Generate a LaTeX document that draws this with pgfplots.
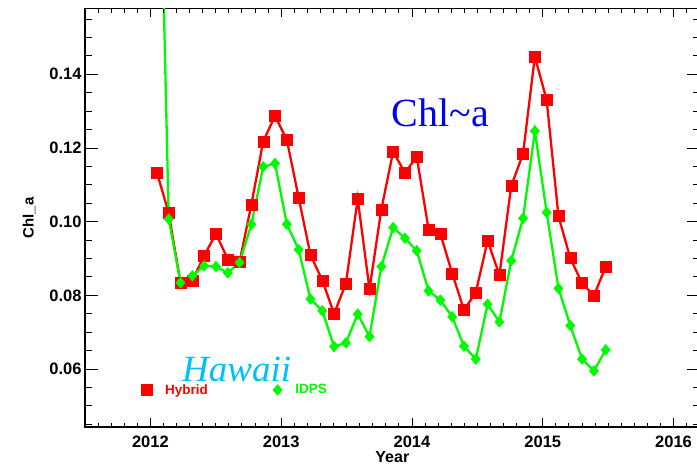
\documentclass[border=0pt]{standalone}
\usepackage{pgfplots}
\pgfplotsset{compat=1.18}
\usepackage{pgfplotstable}
\usepackage{fontspec}
\setmainfont{Liberation Sans}
\newfontfamily\timesfont{Liberation Serif}
\definecolor{hyb}{RGB}{255,0,0}
\definecolor{idps}{RGB}{0,250,0}
\definecolor{chlblue}{RGB}{0,0,245}
\definecolor{hawaii}{RGB}{0,191,255}

\pgfplotstableread{
x hybrid idps
2012.0500 0.1133 0.2400
2012.1403 0.1023 0.1007
2012.2306 0.0833 0.0834
2012.3209 0.0840 0.0853
2012.4112 0.0908 0.0880
2012.5015 0.0967 0.0878
2012.5918 0.0898 0.0861
2012.6821 0.0891 0.0889
2012.7724 0.1047 0.0993
2012.8627 0.1218 0.1149
2012.9530 0.1287 0.1158
2013.0433 0.1222 0.0993
2013.1336 0.1065 0.0924
2013.2239 0.0910 0.0790
2013.3142 0.0841 0.0758
2013.4045 0.0750 0.0661
2013.4948 0.0832 0.0671
2013.5851 0.1062 0.0749
2013.6754 0.0817 0.0688
2013.7657 0.1033 0.0878
2013.8560 0.1190 0.0984
2013.9463 0.1133 0.0955
2014.0366 0.1176 0.0921
2014.1269 0.0979 0.0812
2014.2172 0.0967 0.0787
2014.3075 0.0860 0.0742
2014.3978 0.0760 0.0662
2014.4881 0.0808 0.0627
2014.5784 0.0948 0.0776
2014.6687 0.0855 0.0728
2014.7590 0.1097 0.0894
2014.8493 0.1184 0.1009
2014.9396 0.1448 0.1246
2015.0299 0.1330 0.1025
2015.1202 0.1015 0.0819
2015.2105 0.0901 0.0718
2015.3008 0.0833 0.0627
2015.3911 0.0799 0.0595
2015.4814 0.0878 0.0652
}\datatable

\begin{document}
\begin{tikzpicture}
\begin{axis}[
  at={(85pt,37pt)}, anchor=south west,
  scale only axis, width=614.7pt, height=418.3pt,
  xmin=2011.5, xmax=2016.2, ymin=0.04426, ymax=0.1578,
  xtick=\empty,
  ytick={0.06,0.08,0.10,0.12,0.14},
  minor ytick={0.045,0.05,...,0.156},
  major tick length=13pt, minor tick length=6.7pt,
  tick style={black, line width=0.9pt},
  axis line style={black, line width=1.2pt},
  tick label style={font=\bfseries\fontsize{16.5}{19}\selectfont},
  /pgf/number format/assume math mode=true,
  yticklabel style={/pgf/number format/.cd, fixed, fixed zerofill, precision=2},
  ylabel={Chl\_a},
  every axis y label/.style={at={(axis description cs:-0.0802,0.5)},
    rotate=90, anchor=south, inner sep=0pt,
    font=\bfseries\fontsize{15}{18}\selectfont},
  legend style={at={(0.0911,0.0885)}, anchor=west, draw=none, fill=none,
    inner sep=0pt, font=\bfseries\fontsize{13.5}{15}\selectfont,
    /tikz/every even column/.append style={column sep=63pt},
    /tikz/every odd column/.append style={column sep=11pt}},
  legend columns=2,
]
\addplot[hyb, line width=2.3pt, mark=square*, mark size=5.5pt,
  mark options={solid, line width=0.4pt}, forget plot]
  table[x=x, y=hybrid]{\datatable};
\addplot[idps, line width=2.3pt, mark=diamond*, mark size=5.4pt,
  mark options={solid, line width=0.4pt, xscale=1.15}, forget plot]
  table[x=x, y=idps]{\datatable};
\addlegendimage{only marks, mark=square*, hyb, mark size=5.5pt}
\addlegendentry[text=hyb]{Hybrid}
\addlegendimage{only marks, mark=diamond*, idps, mark size=5.4pt, mark options={xscale=1.15}}
\addlegendentry[text=idps]{IDPS}
\end{axis}
\begin{axis}[
  at={(85pt,37pt)}, anchor=south west,
  scale only axis, width=614.7pt, height=418.3pt,
  xmin=2011.5, xmax=2016.2, ymin=0.04426, ymax=0.1578,
  ytick=\empty,
  xtick={2012,2013,2014,2015,2016},
  minor xtick={2011.6,2011.7,...,2016.15},
  major tick length=8.7pt, minor tick length=4.3pt,
  tick style={black, line width=0.9pt},
  axis line style={draw=none},
  tick label style={font=\bfseries\fontsize{16.5}{19}\selectfont},
  /pgf/number format/assume math mode=true,
  xticklabel style={/pgf/number format/1000 sep={}, anchor=base, yshift=-20.3pt},
  xlabel={Year},
  every axis x label/.style={at={(axis description cs:0.5,-0.0837)},
    anchor=base, inner sep=0pt, font=\bfseries\fontsize{16}{18}\selectfont},
]
\end{axis}
\node[anchor=base west, inner sep=0pt, text=chlblue,
  font=\timesfont\fontsize{40}{44}\selectfont] at (391.7pt,337pt) {Chl\textasciitilde a};
\node[anchor=base west, inner sep=0pt, text=hawaii,
  font=\timesfont\itshape\fontsize{37}{40}\selectfont] at (182pt,82pt) {Hawaii};
\pgfresetboundingbox
\path[use as bounding box] (0pt,0pt) rectangle (697pt,464pt);
\end{tikzpicture}
\end{document}
